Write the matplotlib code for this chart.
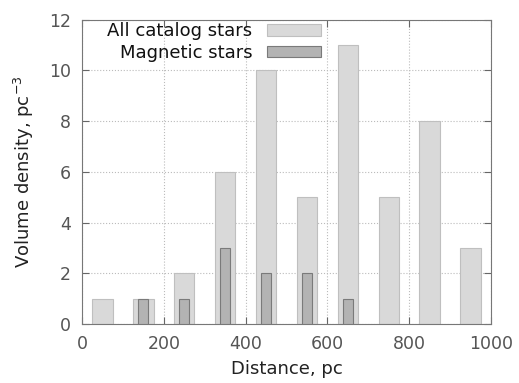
import numpy as np
import matplotlib
matplotlib.use('Agg')
import matplotlib.pyplot as plt

# Data
all_x = [50, 150, 250, 350, 450, 550, 650, 750, 850, 950]
all_density = [1, 1, 2, 6, 10, 5, 11, 5, 8, 3]
mag_x = [150, 250, 350, 450, 550, 650]
mag_density = [1, 1, 3, 2, 2, 1]

plt.rcParams['font.family'] = 'DejaVu Sans'
tick_col = '#555555'
label_col = '#222222'

fig = plt.figure(figsize=(5.19, 3.83), dpi=100)
ax = fig.add_axes([0.158, 0.154, 0.788, 0.795])

ax.bar(all_x, all_density, width=50, color='#d9d9d9', edgecolor='#bfbfbf',
       linewidth=0.8, label='All catalog stars', zorder=2)
ax.bar(mag_x, mag_density, width=25, color='#b3b3b3', edgecolor='#7a7a7a',
       linewidth=0.8, label='Magnetic stars', zorder=3)

ax.set_xlim(0, 1000)
ax.set_ylim(0, 12)
ax.set_xticks(np.arange(0, 1001, 200))
ax.set_yticks(np.arange(0, 13, 2))
ax.grid(True, linestyle=':', color='#bbbbbb', linewidth=0.8, zorder=0)
ax.tick_params(direction='in', top=True, right=True, length=5, color='#666666',
               labelsize=12.5, labelcolor=tick_col)
ax.tick_params(axis='x', pad=8)
ax.tick_params(axis='y', pad=8)
for s in ax.spines.values():
    s.set_color('#777777')

ax.set_xlabel('Distance, pc', fontsize=13, color=label_col, labelpad=5)
ax.set_ylabel('Volume density, pc$^{-3}$', fontsize=13, color=label_col, labelpad=9)

leg = ax.legend(loc='upper left', bbox_to_anchor=(0.035, 1.027), frameon=False,
                markerfirst=False, fontsize=13, handlelength=3.0,
                handleheight=0.6, labelspacing=0.2, handletextpad=0.8,
                borderaxespad=0.2)
for t in leg.get_texts():
    t.set_color('#111111')
    t.set_ha('right')

fig.savefig('out.png', dpi=100)
